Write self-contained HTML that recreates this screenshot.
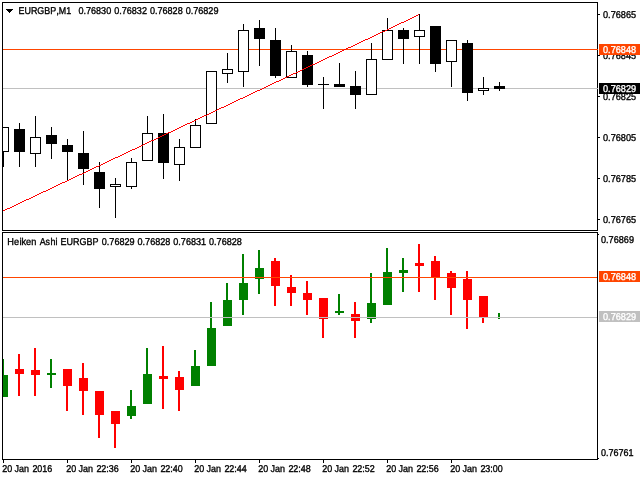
<!DOCTYPE html>
<html><head><meta charset="utf-8"><title>EURGBP,M1</title>
<style>
html,body{margin:0;padding:0;background:#fff;overflow:hidden}
svg{display:block}
text{font-family:"Liberation Sans",sans-serif;font-size:9.9px;white-space:pre;stroke-width:0.35px;text-rendering:geometricPrecision}
</style></head><body>
<svg width="640" height="480" viewBox="0 0 640 480" shape-rendering="crispEdges">
<defs><clipPath id="c1"><rect x="3" y="3" width="594" height="227"/></clipPath>
<clipPath id="c2"><rect x="3" y="233" width="594" height="226"/></clipPath></defs>
<rect x="0" y="0" width="640" height="480" fill="#fff"/>
<rect x="2" y="2" width="596" height="1" fill="#000"/>
<rect x="2" y="2" width="1" height="229" fill="#000"/>
<rect x="2" y="230" width="596" height="1" fill="#000"/>
<rect x="597" y="2" width="1" height="229" fill="#000"/>
<rect x="2" y="232" width="596" height="1" fill="#000"/>
<rect x="2" y="232" width="1" height="228" fill="#000"/>
<rect x="2" y="459" width="596" height="1" fill="#000"/>
<rect x="597" y="232" width="1" height="228" fill="#000"/>
<g clip-path="url(#c1)">
<rect x="3" y="88" width="594" height="1" fill="#c0c0c0"/>
<rect x="3" y="49" width="594" height="1" fill="#ff4500"/>
<rect x="3" y="127" width="1" height="40" fill="#000"/>
<rect x="-2" y="127" width="11" height="25" fill="#000"/>
<rect x="-1" y="128" width="9" height="23" fill="#fff"/>
<rect x="19" y="123" width="1" height="44" fill="#000"/>
<rect x="14" y="129" width="11" height="23" fill="#000"/>
<rect x="35" y="116" width="1" height="51" fill="#000"/>
<rect x="30" y="137" width="11" height="17" fill="#000"/>
<rect x="31" y="138" width="9" height="15" fill="#fff"/>
<rect x="51" y="127" width="1" height="32" fill="#000"/>
<rect x="46" y="135" width="11" height="9" fill="#000"/>
<rect x="67" y="139" width="1" height="42" fill="#000"/>
<rect x="62" y="145" width="11" height="7" fill="#000"/>
<rect x="83" y="131" width="1" height="54" fill="#000"/>
<rect x="78" y="153" width="11" height="16" fill="#000"/>
<rect x="99" y="162" width="1" height="46" fill="#000"/>
<rect x="94" y="172" width="11" height="17" fill="#000"/>
<rect x="115" y="178" width="1" height="40" fill="#000"/>
<rect x="110" y="184" width="11" height="3" fill="#000"/>
<rect x="111" y="185" width="9" height="1" fill="#fff"/>
<rect x="131" y="158" width="1" height="31" fill="#000"/>
<rect x="126" y="162" width="11" height="25" fill="#000"/>
<rect x="127" y="163" width="9" height="23" fill="#fff"/>
<rect x="147" y="116" width="1" height="45" fill="#000"/>
<rect x="142" y="133" width="11" height="28" fill="#000"/>
<rect x="143" y="134" width="9" height="26" fill="#fff"/>
<rect x="163" y="114" width="1" height="65" fill="#000"/>
<rect x="158" y="133" width="11" height="30" fill="#000"/>
<rect x="179" y="139" width="1" height="42" fill="#000"/>
<rect x="174" y="147" width="11" height="18" fill="#000"/>
<rect x="175" y="148" width="9" height="16" fill="#fff"/>
<rect x="195" y="119" width="1" height="29" fill="#000"/>
<rect x="190" y="125" width="11" height="23" fill="#000"/>
<rect x="191" y="126" width="9" height="21" fill="#fff"/>
<rect x="211" y="71" width="1" height="53" fill="#000"/>
<rect x="206" y="71" width="11" height="53" fill="#000"/>
<rect x="207" y="72" width="9" height="51" fill="#fff"/>
<rect x="227" y="53" width="1" height="30" fill="#000"/>
<rect x="222" y="69" width="11" height="5" fill="#000"/>
<rect x="223" y="70" width="9" height="3" fill="#fff"/>
<rect x="243" y="24" width="1" height="63" fill="#000"/>
<rect x="238" y="30" width="11" height="42" fill="#000"/>
<rect x="239" y="31" width="9" height="40" fill="#fff"/>
<rect x="259" y="20" width="1" height="46" fill="#000"/>
<rect x="254" y="28" width="11" height="11" fill="#000"/>
<rect x="275" y="28" width="1" height="50" fill="#000"/>
<rect x="270" y="40" width="11" height="36" fill="#000"/>
<rect x="291" y="45" width="1" height="33" fill="#000"/>
<rect x="286" y="51" width="11" height="27" fill="#000"/>
<rect x="287" y="52" width="9" height="25" fill="#fff"/>
<rect x="307" y="51" width="1" height="36" fill="#000"/>
<rect x="302" y="55" width="11" height="30" fill="#000"/>
<rect x="323" y="77" width="1" height="32" fill="#000"/>
<rect x="318" y="84" width="11" height="1" fill="#000"/>
<rect x="339" y="63" width="1" height="24" fill="#000"/>
<rect x="334" y="84" width="11" height="3" fill="#000"/>
<rect x="355" y="71" width="1" height="38" fill="#000"/>
<rect x="350" y="86" width="11" height="9" fill="#000"/>
<rect x="371" y="43" width="1" height="52" fill="#000"/>
<rect x="366" y="59" width="11" height="36" fill="#000"/>
<rect x="367" y="60" width="9" height="34" fill="#fff"/>
<rect x="387" y="18" width="1" height="42" fill="#000"/>
<rect x="382" y="30" width="11" height="30" fill="#000"/>
<rect x="383" y="31" width="9" height="28" fill="#fff"/>
<rect x="403" y="28" width="1" height="36" fill="#000"/>
<rect x="398" y="30" width="11" height="9" fill="#000"/>
<rect x="419" y="14" width="1" height="50" fill="#000"/>
<rect x="414" y="30" width="11" height="7" fill="#000"/>
<rect x="415" y="31" width="9" height="5" fill="#fff"/>
<rect x="435" y="26" width="1" height="46" fill="#000"/>
<rect x="430" y="26" width="11" height="38" fill="#000"/>
<rect x="451" y="40" width="1" height="47" fill="#000"/>
<rect x="446" y="40" width="11" height="22" fill="#000"/>
<rect x="447" y="41" width="9" height="20" fill="#fff"/>
<rect x="467" y="40" width="1" height="61" fill="#000"/>
<rect x="462" y="43" width="11" height="50" fill="#000"/>
<rect x="483" y="77" width="1" height="18" fill="#000"/>
<rect x="478" y="88" width="11" height="3" fill="#000"/>
<rect x="479" y="89" width="9" height="1" fill="#fff"/>
<rect x="499" y="82" width="1" height="9" fill="#000"/>
<rect x="494" y="86" width="11" height="3" fill="#000"/>
<path fill="#ff0000" d="M3 210h2v1h-2zM5 209h2v1h-2zM7 208h3v1h-3zM10 207h2v1h-2zM12 206h2v1h-2zM14 205h2v1h-2zM16 204h2v1h-2zM18 203h2v1h-2zM20 202h2v1h-2zM22 201h2v1h-2zM24 200h2v1h-2zM26 199h3v1h-3zM29 198h2v1h-2zM31 197h2v1h-2zM33 196h2v1h-2zM35 195h2v1h-2zM37 194h2v1h-2zM39 193h2v1h-2zM41 192h2v1h-2zM43 191h3v1h-3zM46 190h2v1h-2zM48 189h2v1h-2zM50 188h2v1h-2zM52 187h2v1h-2zM54 186h2v1h-2zM56 185h2v1h-2zM58 184h2v1h-2zM60 183h2v1h-2zM62 182h3v1h-3zM65 181h2v1h-2zM67 180h2v1h-2zM69 179h2v1h-2zM71 178h2v1h-2zM73 177h2v1h-2zM75 176h2v1h-2zM77 175h2v1h-2zM79 174h3v1h-3zM82 173h2v1h-2zM84 172h2v1h-2zM86 171h2v1h-2zM88 170h2v1h-2zM90 169h2v1h-2zM92 168h2v1h-2zM94 167h2v1h-2zM96 166h3v1h-3zM99 165h2v1h-2zM101 164h2v1h-2zM103 163h2v1h-2zM105 162h2v1h-2zM107 161h2v1h-2zM109 160h2v1h-2zM111 159h2v1h-2zM113 158h2v1h-2zM115 157h3v1h-3zM118 156h2v1h-2zM120 155h2v1h-2zM122 154h2v1h-2zM124 153h2v1h-2zM126 152h2v1h-2zM128 151h2v1h-2zM130 150h2v1h-2zM132 149h3v1h-3zM135 148h2v1h-2zM137 147h2v1h-2zM139 146h2v1h-2zM141 145h2v1h-2zM143 144h2v1h-2zM145 143h2v1h-2zM147 142h2v1h-2zM149 141h2v1h-2zM151 140h3v1h-3zM154 139h2v1h-2zM156 138h2v1h-2zM158 137h2v1h-2zM160 136h2v1h-2zM162 135h2v1h-2zM164 134h2v1h-2zM166 133h2v1h-2zM168 132h3v1h-3zM171 131h2v1h-2zM173 130h2v1h-2zM175 129h2v1h-2zM177 128h2v1h-2zM179 127h2v1h-2zM181 126h2v1h-2zM183 125h2v1h-2zM185 124h2v1h-2zM187 123h3v1h-3zM190 122h2v1h-2zM192 121h2v1h-2zM194 120h2v1h-2zM196 119h2v1h-2zM198 118h2v1h-2zM200 117h2v1h-2zM202 116h2v1h-2zM204 115h3v1h-3zM207 114h2v1h-2zM209 113h2v1h-2zM211 112h2v1h-2zM213 111h2v1h-2zM215 110h2v1h-2zM217 109h2v1h-2zM219 108h2v1h-2zM221 107h3v1h-3zM224 106h2v1h-2zM226 105h2v1h-2zM228 104h2v1h-2zM230 103h2v1h-2zM232 102h2v1h-2zM234 101h2v1h-2zM236 100h2v1h-2zM238 99h2v1h-2zM240 98h3v1h-3zM243 97h2v1h-2zM245 96h2v1h-2zM247 95h2v1h-2zM249 94h2v1h-2zM251 93h2v1h-2zM253 92h2v1h-2zM255 91h2v1h-2zM257 90h3v1h-3zM260 89h2v1h-2zM262 88h2v1h-2zM264 87h2v1h-2zM266 86h2v1h-2zM268 85h2v1h-2zM270 84h2v1h-2zM272 83h2v1h-2zM274 82h2v1h-2zM276 81h3v1h-3zM279 80h2v1h-2zM281 79h2v1h-2zM283 78h2v1h-2zM285 77h2v1h-2zM287 76h2v1h-2zM289 75h2v1h-2zM291 74h2v1h-2zM293 73h3v1h-3zM296 72h2v1h-2zM298 71h2v1h-2zM300 70h2v1h-2zM302 69h2v1h-2zM304 68h2v1h-2zM306 67h2v1h-2zM308 66h2v1h-2zM310 65h2v1h-2zM312 64h3v1h-3zM315 63h2v1h-2zM317 62h2v1h-2zM319 61h2v1h-2zM321 60h2v1h-2zM323 59h2v1h-2zM325 58h2v1h-2zM327 57h2v1h-2zM329 56h3v1h-3zM332 55h2v1h-2zM334 54h2v1h-2zM336 53h2v1h-2zM338 52h2v1h-2zM340 51h2v1h-2zM342 50h2v1h-2zM344 49h2v1h-2zM346 48h2v1h-2zM348 47h3v1h-3zM351 46h2v1h-2zM353 45h2v1h-2zM355 44h2v1h-2zM357 43h2v1h-2zM359 42h2v1h-2zM361 41h2v1h-2zM363 40h2v1h-2zM365 39h3v1h-3zM368 38h2v1h-2zM370 37h2v1h-2zM372 36h2v1h-2zM374 35h2v1h-2zM376 34h2v1h-2zM378 33h2v1h-2zM380 32h2v1h-2zM382 31h3v1h-3zM385 30h2v1h-2zM387 29h2v1h-2zM389 28h2v1h-2zM391 27h2v1h-2zM393 26h2v1h-2zM395 25h2v1h-2zM397 24h2v1h-2zM399 23h2v1h-2zM401 22h3v1h-3zM404 21h2v1h-2zM406 20h2v1h-2zM408 19h2v1h-2zM410 18h2v1h-2zM412 17h2v1h-2zM414 16h2v1h-2zM416 15h2v1h-2zM418 14h1v1h-1z"/>
</g>
<rect x="597" y="49" width="1" height="1" fill="#ff4500"/>
<rect x="597" y="88" width="1" height="1" fill="#c0c0c0"/>
<g clip-path="url(#c2)">
<rect x="2" y="359" width="2" height="38" fill="#008000"/>
<rect x="-1" y="375" width="9" height="22" fill="#008000"/>
<rect x="18" y="354" width="2" height="42" fill="#ff0000"/>
<rect x="15" y="369" width="9" height="5" fill="#ff0000"/>
<rect x="34" y="348" width="2" height="48" fill="#ff0000"/>
<rect x="31" y="370" width="9" height="5" fill="#ff0000"/>
<rect x="50" y="359" width="2" height="29" fill="#008000"/>
<rect x="47" y="373" width="9" height="2" fill="#008000"/>
<rect x="66" y="369" width="2" height="42" fill="#ff0000"/>
<rect x="63" y="369" width="9" height="17" fill="#ff0000"/>
<rect x="82" y="363" width="2" height="52" fill="#ff0000"/>
<rect x="79" y="378" width="9" height="13" fill="#ff0000"/>
<rect x="98" y="391" width="2" height="47" fill="#ff0000"/>
<rect x="95" y="391" width="9" height="24" fill="#ff0000"/>
<rect x="114" y="411" width="2" height="37" fill="#ff0000"/>
<rect x="111" y="411" width="9" height="13" fill="#ff0000"/>
<rect x="130" y="390" width="2" height="29" fill="#008000"/>
<rect x="127" y="406" width="9" height="10" fill="#008000"/>
<rect x="146" y="348" width="2" height="56" fill="#008000"/>
<rect x="143" y="374" width="9" height="30" fill="#008000"/>
<rect x="162" y="346" width="2" height="63" fill="#ff0000"/>
<rect x="159" y="376" width="9" height="3" fill="#ff0000"/>
<rect x="178" y="371" width="2" height="40" fill="#ff0000"/>
<rect x="175" y="377" width="9" height="13" fill="#ff0000"/>
<rect x="194" y="350" width="2" height="36" fill="#008000"/>
<rect x="191" y="366" width="9" height="20" fill="#008000"/>
<rect x="210" y="302" width="2" height="64" fill="#008000"/>
<rect x="207" y="328" width="9" height="38" fill="#008000"/>
<rect x="226" y="283" width="2" height="43" fill="#008000"/>
<rect x="223" y="300" width="9" height="26" fill="#008000"/>
<rect x="242" y="254" width="2" height="61" fill="#008000"/>
<rect x="239" y="283" width="9" height="17" fill="#008000"/>
<rect x="258" y="250" width="2" height="44" fill="#008000"/>
<rect x="255" y="268" width="9" height="11" fill="#008000"/>
<rect x="274" y="258" width="2" height="48" fill="#ff0000"/>
<rect x="271" y="261" width="9" height="25" fill="#ff0000"/>
<rect x="290" y="275" width="2" height="31" fill="#ff0000"/>
<rect x="287" y="287" width="9" height="6" fill="#ff0000"/>
<rect x="306" y="281" width="2" height="34" fill="#ff0000"/>
<rect x="303" y="293" width="9" height="7" fill="#ff0000"/>
<rect x="322" y="298" width="2" height="40" fill="#ff0000"/>
<rect x="319" y="298" width="9" height="21" fill="#ff0000"/>
<rect x="338" y="294" width="2" height="21" fill="#008000"/>
<rect x="335" y="311" width="9" height="2" fill="#008000"/>
<rect x="354" y="302" width="2" height="36" fill="#ff0000"/>
<rect x="351" y="314" width="9" height="7" fill="#ff0000"/>
<rect x="370" y="273" width="2" height="50" fill="#008000"/>
<rect x="367" y="303" width="9" height="16" fill="#008000"/>
<rect x="386" y="248" width="2" height="57" fill="#008000"/>
<rect x="383" y="272" width="9" height="33" fill="#008000"/>
<rect x="402" y="258" width="2" height="34" fill="#008000"/>
<rect x="399" y="270" width="9" height="3" fill="#008000"/>
<rect x="418" y="244" width="2" height="48" fill="#ff0000"/>
<rect x="415" y="263" width="9" height="3" fill="#ff0000"/>
<rect x="434" y="256" width="2" height="44" fill="#ff0000"/>
<rect x="431" y="261" width="9" height="17" fill="#ff0000"/>
<rect x="450" y="271" width="2" height="44" fill="#ff0000"/>
<rect x="447" y="273" width="9" height="15" fill="#ff0000"/>
<rect x="466" y="271" width="2" height="58" fill="#ff0000"/>
<rect x="463" y="279" width="9" height="21" fill="#ff0000"/>
<rect x="482" y="296" width="2" height="27" fill="#ff0000"/>
<rect x="479" y="296" width="9" height="22" fill="#ff0000"/>
<rect x="498" y="313" width="2" height="6" fill="#008000"/>
<rect x="3" y="317" width="594" height="1" fill="#c0c0c0"/>
<rect x="3" y="277" width="594" height="1" fill="#ff4500"/>
</g>
<rect x="598" y="14" width="2" height="1" fill="#000"/>
<text x="603" y="18" fill="#000" stroke="#000" textLength="33.2" lengthAdjust="spacingAndGlyphs">0.76865</text>
<rect x="598" y="55" width="2" height="1" fill="#000"/>
<text x="603" y="59" fill="#000" stroke="#000" textLength="33.2" lengthAdjust="spacingAndGlyphs">0.76845</text>
<rect x="598" y="96" width="2" height="1" fill="#000"/>
<text x="603" y="100" fill="#000" stroke="#000" textLength="33.2" lengthAdjust="spacingAndGlyphs">0.76825</text>
<rect x="598" y="137" width="2" height="1" fill="#000"/>
<text x="603" y="141" fill="#000" stroke="#000" textLength="33.2" lengthAdjust="spacingAndGlyphs">0.76805</text>
<rect x="598" y="178" width="2" height="1" fill="#000"/>
<text x="603" y="182" fill="#000" stroke="#000" textLength="33.2" lengthAdjust="spacingAndGlyphs">0.76785</text>
<rect x="598" y="219" width="2" height="1" fill="#000"/>
<text x="603" y="223" fill="#000" stroke="#000" textLength="33.2" lengthAdjust="spacingAndGlyphs">0.76765</text>
<rect x="599" y="44" width="41" height="11" fill="#ff4500"/>
<text x="603" y="53" fill="#fff" stroke="#fff" stroke-width="0.12" textLength="33.2" lengthAdjust="spacingAndGlyphs">0.76848</text>
<rect x="599" y="83" width="41" height="11" fill="#000"/>
<text x="603" y="92" fill="#fff" stroke="#fff" stroke-width="0.12" textLength="33.2" lengthAdjust="spacingAndGlyphs">0.76829</text>
<text x="601" y="243" fill="#000" stroke="#000" textLength="33" lengthAdjust="spacingAndGlyphs">0.76869</text>
<rect x="598" y="234" width="1" height="1" fill="#000"/>
<text x="601" y="456" fill="#000" stroke="#000" textLength="32.6" lengthAdjust="spacingAndGlyphs">0.76761</text>
<rect x="598" y="458" width="1" height="1" fill="#000"/>
<rect x="599" y="271" width="41" height="11" fill="#ff4500"/>
<text x="603" y="280" fill="#fff" stroke="#fff" stroke-width="0.12" textLength="33.2" lengthAdjust="spacingAndGlyphs">0.76848</text>
<rect x="599" y="311" width="41" height="11" fill="#c0c0c0"/>
<text x="603" y="320" fill="#fff" stroke="#fff" stroke-width="0.12" textLength="33.2" lengthAdjust="spacingAndGlyphs">0.76829</text>
<path d="M6 9h7l-3.5 4z" fill="#000"/>
<text x="18.5" y="13.7" fill="#000" stroke="#000" textLength="37.7" lengthAdjust="spacingAndGlyphs">EURGBP</text>
<text x="56.2" y="13.7" fill="#000" stroke="#000">,</text>
<text x="58.8" y="13.7" fill="#000" stroke="#000" textLength="12.3" lengthAdjust="spacingAndGlyphs">M1</text>
<text x="78.4" y="13.7" fill="#000" stroke="#000" textLength="32.8" lengthAdjust="spacingAndGlyphs">0.76830</text>
<text x="114.15" y="13.7" fill="#000" stroke="#000" textLength="32.8" lengthAdjust="spacingAndGlyphs">0.76832</text>
<text x="149.9" y="13.7" fill="#000" stroke="#000" textLength="32.8" lengthAdjust="spacingAndGlyphs">0.76828</text>
<text x="185.65" y="13.7" fill="#000" stroke="#000" textLength="32.8" lengthAdjust="spacingAndGlyphs">0.76829</text>
<text x="7.3" y="244.7" fill="#000" stroke="#000" textLength="11.74" lengthAdjust="spacingAndGlyphs">He</text>
<text x="19.4" y="244.7" fill="#000" stroke="#000">i</text>
<text x="21.48" y="244.7" fill="#000" stroke="#000" textLength="14.81" lengthAdjust="spacingAndGlyphs">ken</text>
<text x="39.7" y="244.7" fill="#000" stroke="#000" textLength="10.38" lengthAdjust="spacingAndGlyphs">As</text>
<text x="50.58" y="244.7" fill="#000" stroke="#000" textLength="6.91" lengthAdjust="spacingAndGlyphs">hi</text>
<text x="60.4" y="244.7" fill="#000" stroke="#000" textLength="38.0" lengthAdjust="spacingAndGlyphs">EURGBP</text>
<text x="101.8" y="244.7" fill="#000" stroke="#000" textLength="32.8" lengthAdjust="spacingAndGlyphs">0.76829</text>
<text x="137.55" y="244.7" fill="#000" stroke="#000" textLength="32.8" lengthAdjust="spacingAndGlyphs">0.76828</text>
<text x="173.3" y="244.7" fill="#000" stroke="#000" textLength="32.8" lengthAdjust="spacingAndGlyphs">0.76831</text>
<text x="209.05" y="244.7" fill="#000" stroke="#000" textLength="32.8" lengthAdjust="spacingAndGlyphs">0.76828</text>
<rect x="3" y="460" width="1" height="3" fill="#000"/>
<text x="2.2" y="472" fill="#000" stroke="#000" textLength="9.96" lengthAdjust="spacingAndGlyphs">20</text>
<text x="14.45" y="472" fill="#000" stroke="#000" textLength="14.44" lengthAdjust="spacingAndGlyphs">Jan</text>
<text x="32.4" y="472" fill="#000" stroke="#000" textLength="19.9" lengthAdjust="spacingAndGlyphs">2016</text>
<rect x="67" y="460" width="1" height="3" fill="#000"/>
<text x="66.2" y="472" fill="#000" stroke="#000" textLength="9.96" lengthAdjust="spacingAndGlyphs">20</text>
<text x="78.45" y="472" fill="#000" stroke="#000" textLength="14.44" lengthAdjust="spacingAndGlyphs">Jan</text>
<text x="96.4" y="472" fill="#000" stroke="#000" textLength="22.4" lengthAdjust="spacingAndGlyphs">22:36</text>
<rect x="131" y="460" width="1" height="3" fill="#000"/>
<text x="130.2" y="472" fill="#000" stroke="#000" textLength="9.96" lengthAdjust="spacingAndGlyphs">20</text>
<text x="142.45" y="472" fill="#000" stroke="#000" textLength="14.44" lengthAdjust="spacingAndGlyphs">Jan</text>
<text x="160.4" y="472" fill="#000" stroke="#000" textLength="22.4" lengthAdjust="spacingAndGlyphs">22:40</text>
<rect x="195" y="460" width="1" height="3" fill="#000"/>
<text x="194.2" y="472" fill="#000" stroke="#000" textLength="9.96" lengthAdjust="spacingAndGlyphs">20</text>
<text x="206.45" y="472" fill="#000" stroke="#000" textLength="14.44" lengthAdjust="spacingAndGlyphs">Jan</text>
<text x="224.4" y="472" fill="#000" stroke="#000" textLength="22.4" lengthAdjust="spacingAndGlyphs">22:44</text>
<rect x="259" y="460" width="1" height="3" fill="#000"/>
<text x="258.2" y="472" fill="#000" stroke="#000" textLength="9.96" lengthAdjust="spacingAndGlyphs">20</text>
<text x="270.45" y="472" fill="#000" stroke="#000" textLength="14.44" lengthAdjust="spacingAndGlyphs">Jan</text>
<text x="288.4" y="472" fill="#000" stroke="#000" textLength="22.4" lengthAdjust="spacingAndGlyphs">22:48</text>
<rect x="323" y="460" width="1" height="3" fill="#000"/>
<text x="322.2" y="472" fill="#000" stroke="#000" textLength="9.96" lengthAdjust="spacingAndGlyphs">20</text>
<text x="334.45" y="472" fill="#000" stroke="#000" textLength="14.44" lengthAdjust="spacingAndGlyphs">Jan</text>
<text x="352.4" y="472" fill="#000" stroke="#000" textLength="22.4" lengthAdjust="spacingAndGlyphs">22:52</text>
<rect x="387" y="460" width="1" height="3" fill="#000"/>
<text x="386.2" y="472" fill="#000" stroke="#000" textLength="9.96" lengthAdjust="spacingAndGlyphs">20</text>
<text x="398.45" y="472" fill="#000" stroke="#000" textLength="14.44" lengthAdjust="spacingAndGlyphs">Jan</text>
<text x="416.4" y="472" fill="#000" stroke="#000" textLength="22.4" lengthAdjust="spacingAndGlyphs">22:56</text>
<rect x="451" y="460" width="1" height="3" fill="#000"/>
<text x="450.2" y="472" fill="#000" stroke="#000" textLength="9.96" lengthAdjust="spacingAndGlyphs">20</text>
<text x="462.45" y="472" fill="#000" stroke="#000" textLength="14.44" lengthAdjust="spacingAndGlyphs">Jan</text>
<text x="480.4" y="472" fill="#000" stroke="#000" textLength="22.4" lengthAdjust="spacingAndGlyphs">23:00</text>
</svg>
</body></html>
